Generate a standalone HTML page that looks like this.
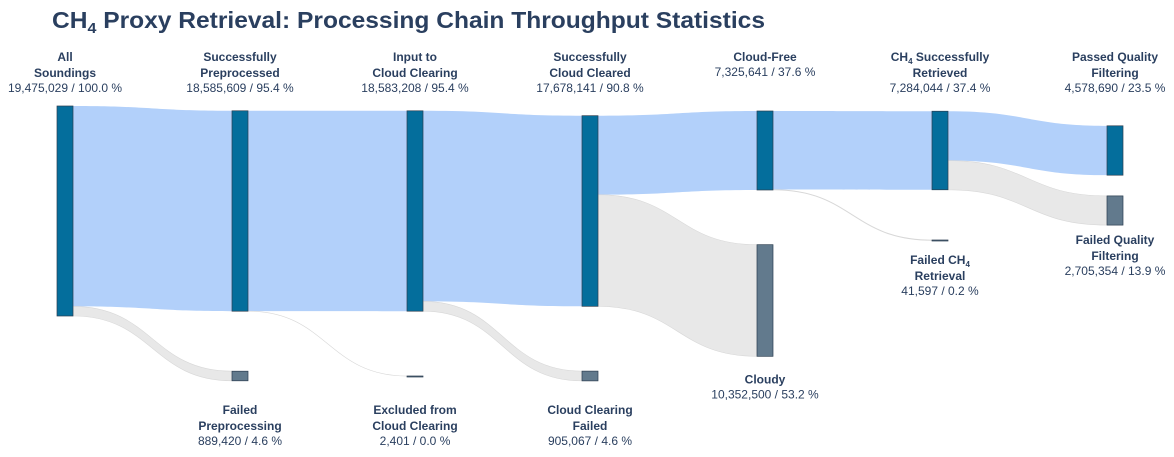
<!DOCTYPE html>
<html><head><meta charset="utf-8"><style>
html,body{margin:0;padding:0;background:#fff;}
svg{display:block;font-family:"Liberation Sans",sans-serif;}
</style></head><body>
<svg id="chart" width="1174" height="457" viewBox="0 0 1174 457" xmlns="http://www.w3.org/2000/svg">
<text x="52" y="28" font-size="23" font-weight="bold" fill="#2a3f5f" textLength="713" lengthAdjust="spacingAndGlyphs">CH<tspan font-size="15" dy="5">4</tspan><tspan dy="-5"> Proxy Retrieval: Processing Chain Throughput Statistics</tspan></text>
<g id="links"></g><g id="nodes"></g><g id="labels"></g>
</svg>
<script>
const nodeNames = ["All|Soundings","Successfully|Preprocessed","Failed|Preprocessing","Input to|Cloud Clearing","Excluded from|Cloud Clearing","Successfully|Cloud Cleared","Cloud Clearing|Failed","Cloud-Free","Cloudy","CH4 Successfully|Retrieved","Failed CH4|Retrieval","Passed Quality|Filtering","Failed Quality|Filtering"];
const nodeValues = [19475029,18585609,889420,18583208,2401,17678141,905067,7325641,10352500,7284044,41597,4578690,2705354];
const nodePct = ["100.0","95.4","4.6","95.4","0.0","90.8","4.6","37.6","53.2","37.4","0.2","23.5","13.9"];
const nodeFailed = [0,0,1,0,1,0,1,0,1,0,1,0,1];
const nodeColumn = [0,1,1,2,2,3,3,4,4,5,5,6,6];
const linkSource = [0,0,1,1,3,3,5,5,7,7,9,9];
const linkTarget = [1,2,3,4,5,6,7,8,9,10,11,12];
const linkValue = [18585609,889420,18583208,2401,17678141,905067,7325641,10352500,7284044,41597,4578690,2705354];
// layout: node vertical centers (px)
const nodeCenter = [211,211,376,211,376.5,211,376,150.5,300.5,150.5,240.5,150.5,210.5];
const scale = 210/19475029, x0=57, colStep=175, nw=16;
const NS="http://www.w3.org/2000/svg";
const fmt=v=>v.toLocaleString("en-US");
function mk(tag,attrs,parent){const e=document.createElementNS(NS,tag);for(const k in attrs)e.setAttribute(k,attrs[k]);parent.appendChild(e);return e;}
const nx=i=>x0+nodeColumn[i]*colStep;
const nh=i=>Math.max(1,nodeValues[i]*scale);
const ny=i=>nodeCenter[i]-nh(i)/2;
const outOff=nodeValues.map(()=>0), inOff=nodeValues.map(()=>0);
const gL=document.getElementById("links"),gN=document.getElementById("nodes"),gT=document.getElementById("labels");
linkValue.forEach((v,k)=>{
  const s=linkSource[k],t=linkTarget[k],h=v*scale;
  const sy=ny(s)+outOff[s], ty=ny(t)+inOff[t]; outOff[s]+=h; inOff[t]+=h;
  const xa=nx(s)+nw, xb=nx(t), xm=(xa+xb)/2;
  const d=`M${xa},${sy}C${xm},${sy} ${xm},${ty} ${xb},${ty}L${xb},${ty+h}C${xm},${ty+h} ${xm},${sy+h} ${xa},${sy+h}Z`;
  const p=mk("path",{d:d,fill:nodeFailed[t]?"#e8e8e8":"#b2d0fa",stroke:nodeFailed[t]?"#d8d8d8":"none","stroke-width":0.6},gL);
  
  
});
nodeValues.forEach((v,i)=>{
  const r=mk("rect",{x:nx(i),y:ny(i),width:nw,height:nh(i),fill:nodeFailed[i]?"#627a8d":"#046e9c",stroke:"#2c3e50","stroke-width":0.7},gN);
  
  
  const lines=nodeNames[i].split("|");
  const cx=nx(i)+nw/2;
  let y0;
  if(!nodeFailed[i]) y0=61;
  else if(nodeColumn[i]<=3) y0=414;
  else y0=ny(i)+nh(i)+(i===8?27:(i===10?23:19));
  const g=mk("g",{},gT);
  
  
  lines.forEach((ln,j)=>{
    const t=mk("text",{x:cx,y:y0+j*16,"text-anchor":"middle","font-size":12,"font-weight":"bold",fill:"#2a3f5f"},g);
    if(ln.includes("CH4")){const parts=ln.split("CH4");t.appendChild(document.createTextNode(parts[0]+"CH"));const s=mk("tspan",{"font-size":8,dy:3},t);s.textContent="4";const r2=mk("tspan",{dy:-3},t);r2.textContent=parts[1];}
    else t.textContent=ln;
  });
  const vt=mk("text",{x:cx,y:y0+lines.length*16-1,"text-anchor":"middle","font-size":12,fill:"#2a3f5f"},g);
  vt.textContent=fmt(v)+" / "+nodePct[i]+" %";
});
</script>
</body></html>
